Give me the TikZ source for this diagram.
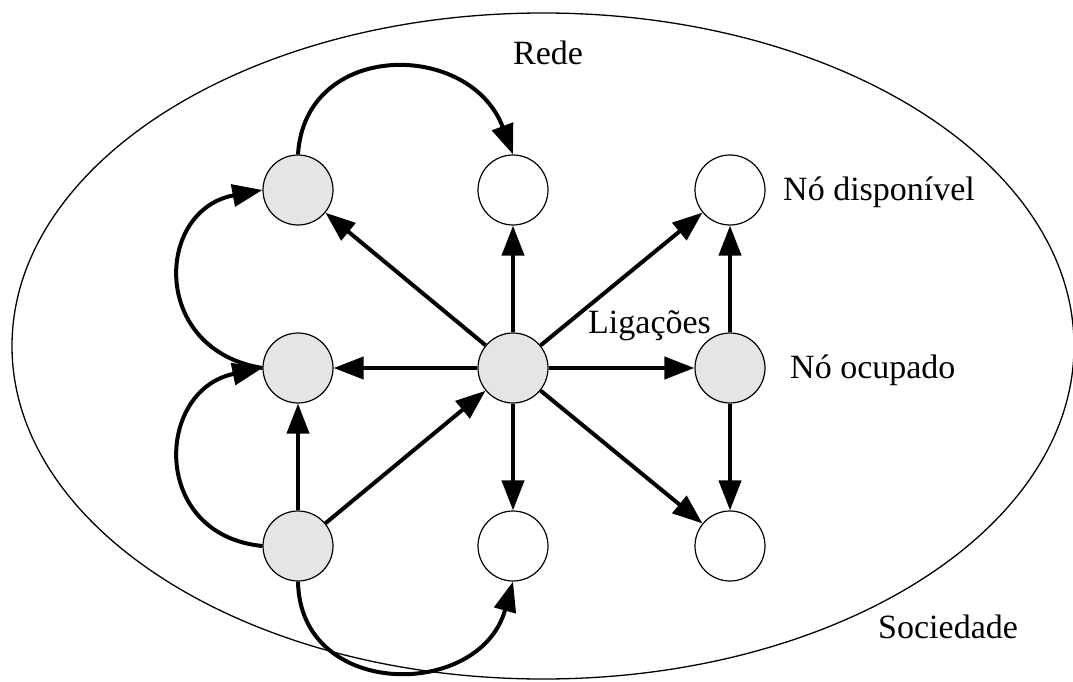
\documentclass[tikz,border=0pt]{standalone}
\usepackage{fontspec}
\setmainfont{Liberation Serif}
\usetikzlibrary{arrows.meta}
\begin{document}
\begin{tikzpicture}[x=1pt,y=-1pt,
  occ/.style={circle,draw=black,line width=1.2pt,fill=gray!20,minimum size=70pt,inner sep=0pt},
  free/.style={circle,draw=black,line width=1.2pt,fill=white,minimum size=70pt,inner sep=0pt},
  link/.style={line width=4pt,-{Triangle[length=30pt,width=22pt]}},
  lbl/.style={font=\fontsize{34}{40}\selectfont,inner sep=0pt}]
\useasboundingbox (0,0) rectangle (1073,682);
\draw[line width=1.3pt] (543,346) ellipse [x radius=531, y radius=333];
\node[occ]  (G1) at (298,190) {};
\node[free] (W1) at (513,190) {};
\node[free] (W2) at (730,190) {};
\node[occ]  (G2) at (298,368) {};
\node[occ]  (C)  at (513,368) {};
\node[occ]  (G3) at (730,368) {};
\node[occ]  (G4) at (298,546) {};
\node[free] (W3) at (513,546) {};
\node[free] (W4) at (730,546) {};
% straight links
\draw[link] (C) -- (G1);
\draw[link] (C) -- (W1);
\draw[link] (C) -- (W2);
\draw[link] (C) -- (G2);
\draw[link] (C) -- (G3);
\draw[link] (C) -- (W3);
\draw[link] (C) -- (W4);
\draw[link] (G4) -- (C);
\draw[link] (G4) -- (G2);
\draw[link] (G3) -- (W2);
\draw[link] (G3) -- (W4);
% curved links
\draw[link] (G1.north) .. controls (305,40) and (470,40) .. (W1.north);
\draw[link] (G2.west) .. controls (150,350) and (155,210) .. (G1.west);
\draw[link] (G4.west) .. controls (150,535) and (155,390) .. (G2.west);
\draw[link] (G4.south) .. controls (300,700) and (480,700) .. (W3.south);
% labels
\node[lbl,anchor=base] (rede) at (548,65) {Rede};
\node[lbl,anchor=base west] (disp) at (783,200) {Nó disponível};
\node[lbl,anchor=base west] (ocup) at (790,378) {Nó ocupado};
\node[lbl,anchor=base west] (lig) at (588,333) {Ligações};
\node[lbl,anchor=base west] (soc) at (878,638) {Sociedade};
\end{tikzpicture}
\end{document}
